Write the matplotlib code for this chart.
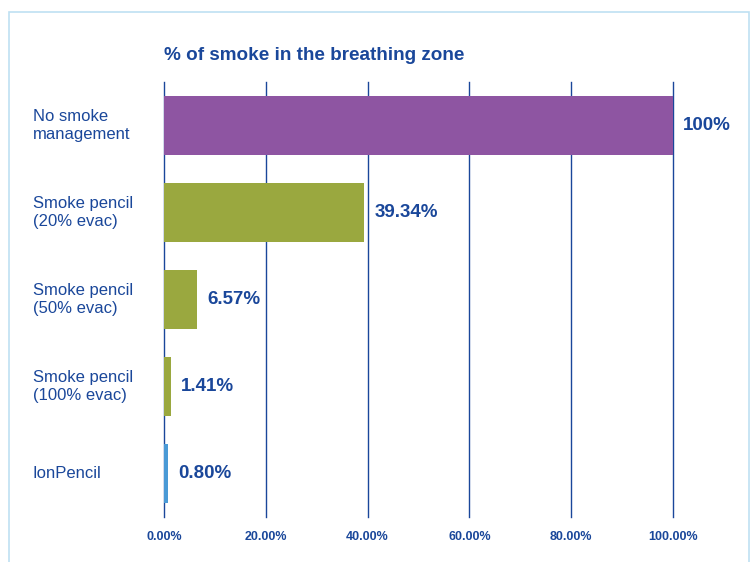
""" Smoke in the breathing zone bar chart """
import matplotlib
matplotlib.use('Agg')
from matplotlib import pyplot as plt
from matplotlib.patches import Rectangle
from matplotlib.ticker import FuncFormatter

categories = ['No smoke\nmanagement', 'Smoke pencil\n(20% evac)', 'Smoke pencil\n(50% evac)',
              'Smoke pencil\n(100% evac)', 'IonPencil']
values = [100, 39.34, 6.57, 1.41, 0.80]
value_labels = ['100%', '39.34%', '6.57%', '1.41%', '0.80%']
bar_colors = ['#8e55a2', '#9aa83f', '#9aa83f', '#9aa83f', '#4a9ad6']
ticks = [0, 20, 40, 60, 80, 100]

plt.rcParams['font.family'] = ['Liberation Sans', 'DejaVu Sans']
navy = '#1a479a'

fig = plt.figure(figsize=(7.51, 5.62), dpi=100)
fig.patches.append(Rectangle((9 / 751, -0.1), 740 / 751, 1.1 - 12 / 562, transform=fig.transFigure,
                             fill=False, edgecolor='#bfe0f2', linewidth=1.2))
ax = fig.add_axes([164 / 751, 45 / 562, 509 / 751, 435 / 562])

y = range(len(categories))
ax.barh(y, values, height=0.67, color=bar_colors, zorder=3)
ax.set_ylim(4.5, -0.5)
ax.set_xlim(0, 100)
ax.set_xticks(ticks)
ax.xaxis.set_major_formatter(FuncFormatter(lambda v, p: '%.2f%%' % v))
for t in ticks:
    ax.axvline(t, color=navy, linewidth=1, zorder=2, clip_on=False)
for s in ax.spines.values():
    s.set_visible(False)
ax.tick_params(axis='x', length=0, pad=10, labelcolor=navy, labelsize=9)
for lab in ax.get_xticklabels():
    lab.set_fontweight('bold')
ax.set_yticks([])

for i, (v, lab) in enumerate(zip(values, value_labels)):
    ax.annotate(lab, (v, i), xytext=(10, 0), textcoords='offset pixels',
                va='center', ha='left', fontsize=13.5, fontweight='bold', color=navy)
for i, c in enumerate(categories):
    ax.text(33, ax.transData.transform((0, i))[1], c, transform=None,
            va='center', ha='left', fontsize=12, color=navy, linespacing=1.25)

fig.text(164 / 751, 1 - 56 / 562, '% of smoke in the breathing zone', fontsize=13.6,
         fontweight='bold', color=navy, va='center', ha='left')

fig.savefig('out.png', dpi=100)
